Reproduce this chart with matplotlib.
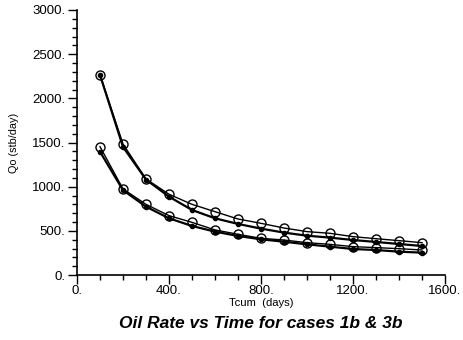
import matplotlib
matplotlib.use("Agg")
import matplotlib.pyplot as plt
from matplotlib.ticker import MultipleLocator, FuncFormatter
from matplotlib.text import Text

plt.rcParams['font.family'] = ['Liberation Sans', 'DejaVu Sans']

tcum = [100, 200, 300, 400, 500, 600, 700, 800, 900, 1000, 1100, 1200, 1300, 1400, 1500]
case1_circle = [2265, 1483, 1087, 914, 800, 717, 634, 585, 532, 491, 472, 434, 411, 389, 366]
case1_dot = [2265, 1450, 1080, 887, 736, 642, 578, 525, 480, 445, 423, 396, 374, 351, 328]
case3_circle = [1453, 974, 800, 672, 596, 510, 461, 415, 396, 366, 347, 321, 310, 298, 283]
case3_dot = [1396, 960, 774, 642, 555, 491, 442, 404, 377, 347, 321, 294, 283, 264, 253]

W, H = 463, 340
fig = plt.figure(figsize=(W/100, H/100), dpi=100)
renderer = fig.canvas.get_renderer()


def fit_size(s, target_px, **kw):
    t = Text(0, 0, s, fontsize=10, **kw)
    t.set_figure(fig)
    w = t.get_window_extent(renderer).width
    return 10 * target_px / w


tick_fs = fit_size("1500.", 33)
xlab_fs = fit_size("Tcum  (days)", 65)
ylab_fs = fit_size("Qo (stb/day)", 60)
title_fs = fit_size("Oil Rate vs Time for cases 1b & 3b", 284, fontweight='bold', style='italic')

ax = fig.add_axes([77/W, 65/H, 368/W, 265/H])

for ys in (case1_circle, case3_circle):
    ax.plot(tcum, ys, color='black', lw=1.0, marker='o', markersize=6.5,
            markerfacecolor='none', markeredgecolor='black', markeredgewidth=1.0)
for ys in (case1_dot, case3_dot):
    ax.plot(tcum, ys, color='black', lw=1.6, marker='o', markersize=3,
            markerfacecolor='black', markeredgecolor='black')

ax.set_xlim(0, 1600)
ax.set_ylim(0, 3000)
ax.spines['top'].set_visible(False)
ax.spines['right'].set_visible(False)
ax.spines['left'].set_linewidth(1.2)
ax.spines['bottom'].set_linewidth(1.2)

ax.xaxis.set_major_locator(MultipleLocator(400))
ax.xaxis.set_minor_locator(MultipleLocator(100))
ax.yaxis.set_major_locator(MultipleLocator(500))
ax.yaxis.set_minor_locator(MultipleLocator(100))
fmt = FuncFormatter(lambda v, p: f"{int(round(v))}.")
ax.xaxis.set_major_formatter(fmt)
ax.yaxis.set_major_formatter(fmt)
ax.tick_params(axis='both', which='major', length=6.5, width=1.0, labelsize=tick_fs, direction='out')
ax.tick_params(axis='both', which='minor', length=3.6, width=1.0, direction='out')
ax.tick_params(axis='y', pad=2)
ax.tick_params(axis='x', pad=0.5)

fig.text(261/W, 1 - 303/H, "Tcum  (days)", ha='center', va='center', fontsize=xlab_fs)
fig.text(14/W, 1 - 143/H, "Qo (stb/day)", ha='center', va='center', rotation=90, fontsize=ylab_fs)
fig.text(261/W, 1 - 323/H, "Oil Rate vs Time for cases 1b & 3b", ha='center', va='center',
         fontsize=title_fs, fontweight='bold', style='italic')

fig.savefig("out.png", dpi=100)
